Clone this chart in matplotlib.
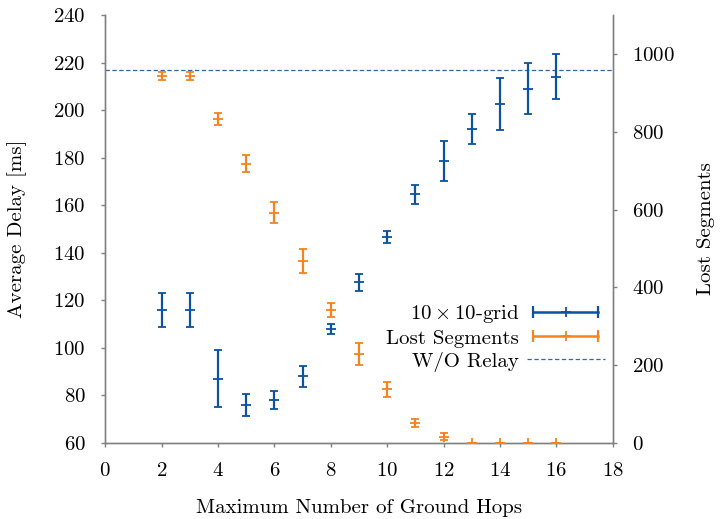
import matplotlib
matplotlib.use('Agg')
import matplotlib.pyplot as plt
from matplotlib.lines import Line2D
from matplotlib.legend_handler import HandlerLine2D, HandlerTuple

plt.rcParams['font.family'] = 'serif'
plt.rcParams['font.serif'] = ['cmr10']
plt.rcParams['mathtext.fontset'] = 'cm'
plt.rcParams['axes.formatter.use_mathtext'] = True

# Data
hops = [2, 3, 4, 5, 6, 7, 8, 9, 10, 11, 12, 13, 14, 15, 16]
delay = [116, 116, 87, 76, 78, 88, 108, 127.6, 146.8, 164.6, 178.5, 192.2, 202.6, 209, 214]
delay_err = [7, 7, 12, 4.5, 3.7, 4.5, 2, 3.5, 2.5, 4, 8.5, 6.3, 11, 10.7, 9.5]
lost = [943, 943, 832, 718, 592, 468, 342, 228, 138, 52, 16, 0, 0, 0, 0]
lost_err = [10, 10, 15, 22, 27, 30, 17, 28, 20, 10, 9, 0, 0, 0, 0]
no_relay_delay = 217

blue = '#0b52a0'
orange = '#f5841f'
dash_blue = '#3566a8'
gray = '#808080'
fs = 15

fig = plt.figure(figsize=(7.21, 5.19), dpi=100)
ax = fig.add_axes([0.146, 0.1464, 0.704, 0.8246])
ax2 = ax.twinx()

ax.errorbar(hops, delay, yerr=delay_err, color=blue, marker='+', ms=7, mew=1.3,
            linestyle='none', elinewidth=1.6, capsize=3, capthick=1.6, zorder=3)
ax2.errorbar(hops, lost, yerr=lost_err, color=orange, marker='+', ms=7, mew=1.3,
             linestyle='none', elinewidth=1.6, capsize=3, capthick=1.6, zorder=3)
ax.axhline(no_relay_delay, color=dash_blue, linestyle=(0, (3.5, 2)), linewidth=0.9)

ax.set_xlim(0, 18)
ax.set_ylim(60, 240)
ax2.set_ylim(0, 1100)
ax.set_xticks(range(0, 19, 2))
ax.set_yticks(range(60, 241, 20))
ax2.set_yticks(range(0, 1001, 200))

for a in (ax, ax2):
    a.spines['top'].set_visible(False)
    for s in ('left', 'right', 'bottom'):
        a.spines[s].set_color(gray)
        a.spines[s].set_linewidth(1.0)
    a.tick_params(colors=gray, labelcolor='black', labelsize=fs, length=3, width=1.0, pad=11)

ax.set_xlabel('Maximum Number of Ground Hops', fontsize=fs, labelpad=13)
ax.set_ylabel('Average Delay [ms]', fontsize=fs, labelpad=19)
ax2.set_ylabel('Lost Segments', fontsize=fs, labelpad=15.5)


def make_handle(color, dashed=False):
    if dashed:
        return Line2D([], [], color=dash_blue, linestyle=(0, (3.5, 2)), linewidth=0.9)
    ends = Line2D([], [], color=color, linewidth=1.8, marker='|', ms=8, mew=1.6)
    mid = Line2D([], [], color=color, linewidth=0, marker='+', ms=7, mew=1.3)
    return (ends, mid)


h_blue = make_handle(blue)
h_orange = make_handle(orange)
h_dash = make_handle(None, dashed=True)
hmap = {
    h_blue[0]: HandlerLine2D(numpoints=2), h_blue[1]: HandlerLine2D(numpoints=1),
    h_orange[0]: HandlerLine2D(numpoints=2), h_orange[1]: HandlerLine2D(numpoints=1),
    tuple: HandlerTuple(ndivide=1, pad=0),
}
ax.legend([h_blue, h_orange, h_dash],
          [r'$10\times10$-grid', 'Lost Segments', 'W/O Relay'],
          handler_map=hmap, markerfirst=False, frameon=False, fontsize=fs,
          loc='center right', bbox_to_anchor=(0.984, 0.247),
          borderaxespad=0, borderpad=0,
          handlelength=3.72, handletextpad=0.39, labelspacing=0.2)

fig.savefig('out.png', dpi=100)
